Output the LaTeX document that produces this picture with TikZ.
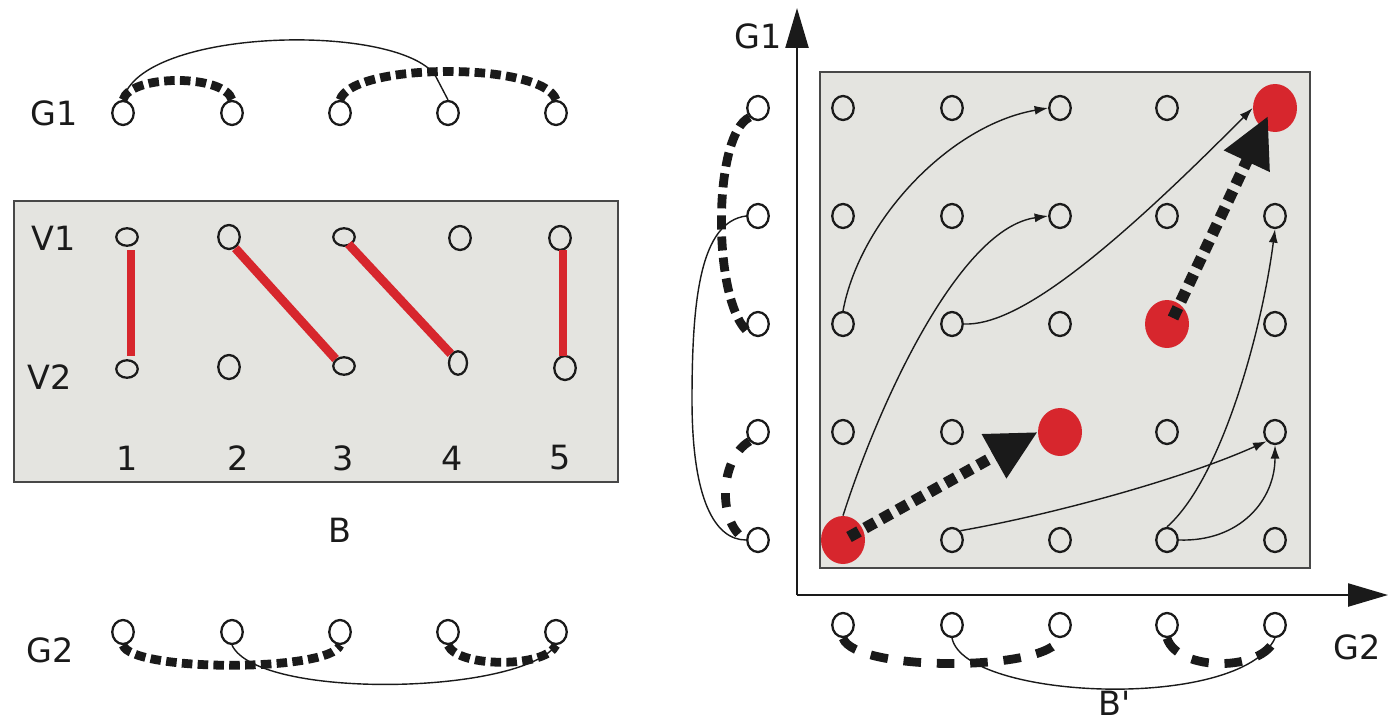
\documentclass[tikz,border=0pt]{standalone}
\usepackage{fontspec}
\setmainfont{DejaVu Sans}
\usetikzlibrary{shapes.geometric,arrows.meta}
\definecolor{boxgray}{HTML}{E4E4E0}
\definecolor{redd}{HTML}{D7262D}
\definecolor{ink}{HTML}{1A1A1A}
\tikzset{
  vtx/.style={ellipse,draw=ink,line width=1.3pt,minimum width=0.43cm,minimum height=0.48cm,inner sep=0pt,fill=white},
  vtxg/.style={vtx,fill=boxgray},
  vtxs/.style={ellipse,draw=ink,line width=1.3pt,minimum width=0.43cm,minimum height=0.35cm,inner sep=0pt,fill=boxgray},
  redv/.style={ellipse,fill=redd,minimum width=0.88cm,minimum height=0.96cm,inner sep=0pt},
  lbl/.style={font=\fontsize{19}{22}\selectfont,text=ink,inner sep=0pt},
  match/.style={draw=redd,line width=5pt},
  fdash/.style={draw=ink,line width=5pt,dash pattern=on 6pt off 3pt},
  fdashw/.style={draw=ink,line width=5pt,dash pattern=on 10pt off 9pt},
  thin/.style={draw=ink,line width=0.8pt},
  thinarr/.style={thin,-{Latex[length=0.27cm,width=0.18cm]}},
  bigarr/.style={draw=ink,line width=6.5pt,dash pattern=on 6.5pt off 4pt,-{Triangle[length=1.0cm,width=0.95cm]}},
  axis/.style={draw=ink,line width=1.3pt,-{Triangle[length=0.8cm,width=0.46cm]}},
  panel/.style={draw=ink!80,line width=1.1pt,fill=boxgray}
}
\begin{document}
\begin{tikzpicture}[x=0.02cm,y=-0.02cm]
\useasboundingbox (0,0) rectangle (1388,723);

% ================= LEFT PANEL =================
\node[lbl] (tG1) at (54,113) {G1};
\foreach \i/\x in {1/123,2/232,3/340,4/448,5/556}{
  \node[vtx] (l\i) at (\x,113) {};
}
\draw[fdash] (l1.north) .. controls (130,74) and (225,74) .. (l2.north);
\draw[fdash] (l3.north) .. controls (352,62) and (544,62) .. (l5.north);
\draw[thin] (l1.north) .. controls (140,28) and (395,22) .. (435,75) -- (l4.north);

% box B
\draw[panel] (14,201) rectangle (618,482);
\node[lbl] (tV1) at (54,238) {V1};
\node[lbl] (tV2) at (50,377) {V2};
\node[vtxs] (v1) at (127,237) {};
\node[vtxg] (v2) at (229,237) {};
\node[vtxs] (v3) at (344,237) {};
\node[vtxg] (v4) at (460,238) {};
\node[vtxg] (v5) at (560,238) {};
\node[vtxs] (w1) at (127,369) {};
\node[vtxg] (w2) at (229,367) {};
\node[vtxs] (w3) at (344,366) {};
\node[ellipse,draw=ink,line width=1.3pt,minimum width=0.36cm,minimum height=0.47cm,inner sep=0pt,fill=boxgray] (w4) at (458,363) {};
\node[vtxg] (w5) at (565,368) {};
\foreach \i/\x in {1/127,2/238,3/343,4/452,5/560}{
  \node[lbl] (n\i) at (\x,458) {\i};
}
\draw[match] (131,250) -- (131,356);
\draw[match] (v2.south east) ++(-2,2) -- (w3.north west);
\draw[match] (v3.south east) ++(-4,0) -- (w4.north west);
\draw[match] (563,250) -- (563,356);
\node[lbl] (tB) at (340,530) {B};

% G2 left
\node[lbl] (tG2) at (50,650) {G2};
\foreach \i/\x in {1/123,2/232,3/340,4/448,5/556}{
  \node[vtx] (m\i) at (\x,632) {};
}
\draw[fdash] (m1.south) .. controls (132,672) and (330,672) .. (m3.south);
\draw[fdash] (m4.south) .. controls (458,668) and (546,668) .. (m5.south);
\draw[thin] (m2.south) .. controls (258,700) and (520,695) .. (m5.south);

% ================= RIGHT PANEL =================
\draw[panel] (820,72) rectangle (1310,568);
\coordinate (O) at (797,595);
\coordinate (ytip) at (797,8);
\coordinate (xtip) at (1388,595);
\draw[axis] (O) -- (ytip);
\draw[axis] (O) -- (xtip);
\node[lbl] (tG1b) at (758,36) {G1};
\node[lbl] (tG2b) at (1357,647) {G2};
\node[lbl] (tBp) at (1115,703) {B\textquotesingle};

% grid
\foreach \c/\x in {1/843,2/952,3/1060,4/1167,5/1275}{
  \foreach \r/\y in {1/108,2/216,3/324,4/432,5/540}{
    \node[vtxg] (p\c\r) at (\x,\y) {};
  }
}
\node[redv] (R1) at (843,540) {};
\node[redv] (R2) at (1060,432) {};
\node[redv] (R3) at (1167,324) {};
\node[redv] (R4) at (1275,108) {};

% G1 column
\foreach \r/\y in {1/108,2/216,3/324,4/432,5/540}{
  \node[vtx] (c\r) at (758,\y) {};
}
\draw[fdash,dash pattern=on 8pt off 4pt] (c1.south west) .. controls (712,135) and (712,305) .. (c3.south west);
\draw[fdash,dash pattern=on 8pt off 9pt] (c4.south west) .. controls (718,460) and (718,525) .. (c5.west);
\draw[thin] (c2.west) .. controls (700,222) and (692,300) .. (692,400) .. controls (692,500) and (715,540) .. (c5.west);

% G2 row
\foreach \c/\x in {1/843,2/952,3/1060,4/1167,5/1275}{
  \node[vtx] (r\c) at (\x,625) {};
}
\draw[fdashw] (r1.south) .. controls (855,672) and (1048,672) .. (r3.south);
\draw[fdashw] (r4.south) .. controls (1178,672) and (1264,672) .. (r5.south);
\draw[thin] (r2.south) .. controls (965,700) and (1240,712) .. (r5.south);

% thin arrows in grid
\draw[thinarr] (p13.north) .. controls (860,220) and (950,125) .. (p31.west);
\draw[thinarr] (R1.north) .. controls (880,400) and (960,228) .. (p32.west);
\draw[thinarr] (p23.east) .. controls (1015,326) and (1100,262) .. (R4.west);
\draw[thinarr] (p25.north east) .. controls (1050,515) and (1180,480) .. (p54.south west);
\draw[thinarr] (p45.north) .. controls (1222,478) and (1262,330) .. (p52.south);
\draw[thinarr] (p45.east) .. controls (1240,542) and (1275,500) .. (p54.south);

% thick dashed arrows
\draw[bigarr] (R1.center) ++(6,-3) -- (R2.west);
\draw[bigarr] (R3.center) ++(6,-6) -- (1268,116);
\end{tikzpicture}
\end{document}
